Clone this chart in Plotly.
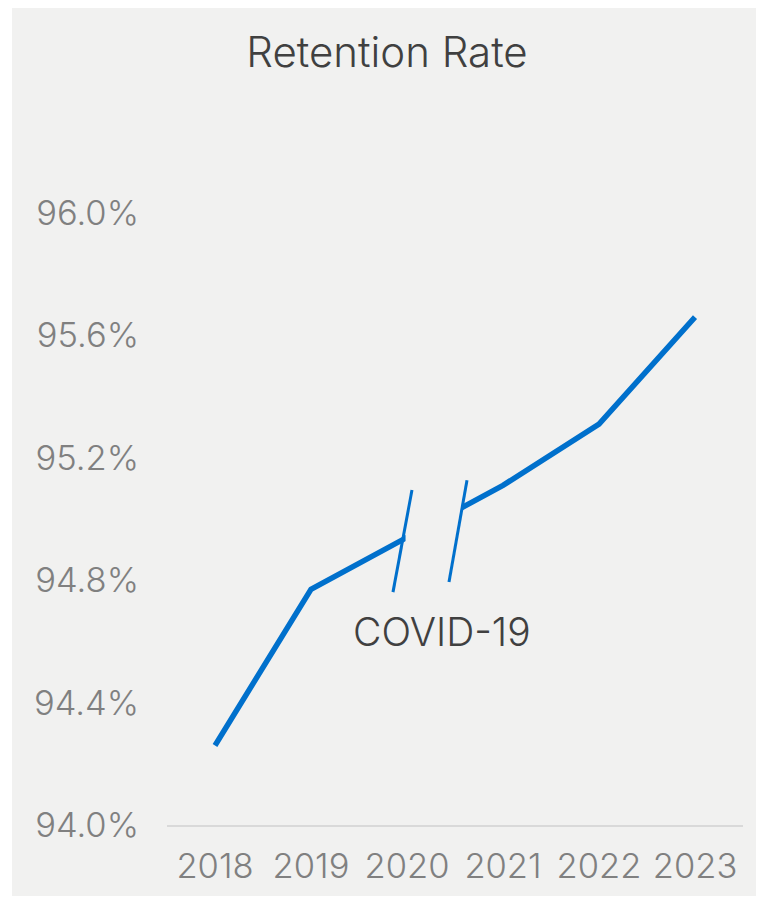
import plotly.graph_objects as go

years = [2018, 2019, 2020, 2021, 2022, 2023]
retention = [94.26, 94.77, 94.94, 95.11, 95.31, 95.66]
y_ticks = [94.0, 94.4, 94.8, 95.2, 95.6, 96.0]
y_tick_labels = ["94.0%", "94.4%", "94.8%", "95.2%", "95.6%", "96.0%"]
annotation_text = "COVID-19"
title_text = "Retention Rate"

BG = "#f1f1f0"
BLUE = "#0070cc"
FONT = "Inter"

fig = go.Figure()
fig.add_trace(go.Scatter(
    x=years, y=retention, mode="lines",
    line=dict(color=BLUE, width=5.5),
    hoverinfo="skip", showlegend=False,
))

shapes = [
    # grey card background (white strip at left)
    dict(type="rect", xref="paper", yref="paper", x0=-0.269, x1=1.2, y0=-0.3, y1=1.5,
         fillcolor=BG, line=dict(width=0), layer="below"),
    # gap in the line (COVID break)
    dict(type="rect", xref="x", yref="y", x0=2019.985, x1=2020.57, y0=94.85, y1=95.1,
         fillcolor=BG, line=dict(width=0), layer="above"),
    # break slashes
    dict(type="line", xref="x", yref="y", x0=2019.854, y0=94.761, x1=2020.052, y1=95.095,
         line=dict(color=BLUE, width=3), layer="above"),
    dict(type="line", xref="x", yref="y", x0=2020.4375, y0=94.794, x1=2020.625, y1=95.127,
         line=dict(color=BLUE, width=3), layer="above"),
]

W, H = 748, 888
fig.update_layout(
    width=W, height=H,
    margin=dict(l=159, r=13, t=205, b=71, autoexpand=False),
    paper_bgcolor="white", plot_bgcolor=BG,
    shapes=shapes,
    title=dict(text=title_text, x=0.382, xanchor="center", xref="paper",
               y=1 - 44 / H, yref="container", yanchor="middle",
               font=dict(family=FONT, size=42, color="#404040", weight=300)),
    font=dict(family=FONT),
    annotations=[dict(text=annotation_text, x=2020.36, y=94.634, xref="x", yref="y",
                      showarrow=False, xanchor="center", yanchor="middle",
                      font=dict(family=FONT, size=39, color="#404040", weight=300))],
)
fig.update_xaxes(range=[2017.5, 2023.5], tickvals=years, ticktext=[str(y) for y in years],
                 showgrid=False, zeroline=False, showline=True, linecolor="#d9d9d9", linewidth=2,
                 ticks="", ticklabelstandoff=10, automargin=False,
                 tickfont=dict(family=FONT, size=34.5, color="#808080", weight=300))
fig.update_yaxes(range=[94.0, 96.0], tickvals=y_ticks, ticktext=y_tick_labels,
                 showgrid=False, zeroline=False, showline=False, ticks="",
                 ticklabelstandoff=27, automargin=False,
                 tickfont=dict(family=FONT, size=34.5, color="#808080", weight=300))

fig.write_html("out.html")
